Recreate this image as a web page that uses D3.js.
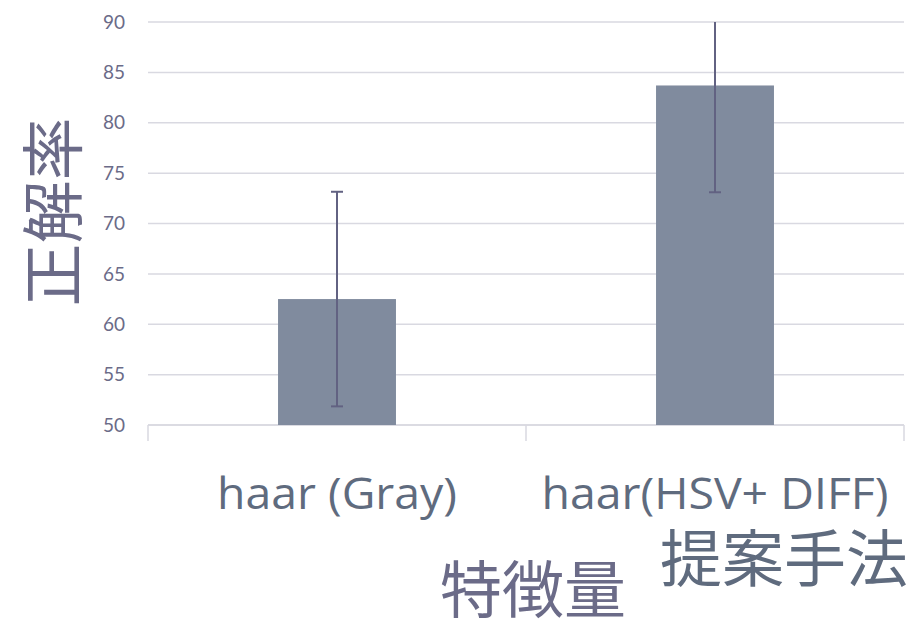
<!DOCTYPE html>
<html>
<head>
<meta charset="utf-8">
<script src="https://cdn.jsdelivr.net/npm/d3@7"></script>
<style>
  body { margin: 0; background: #fff; }
  svg { display: block; }
</style>
</head>
<body>
<svg id="chart"></svg>
<script>
// chart data
const categories = ['haar (Gray)', 'haar(HSV+ DIFF)'];
const values = [62.5, 83.7];
const errors = [10.65, 10.6];
const yTicks = [50, 55, 60, 65, 70, 75, 80, 85, 90];
const extraLabels = ['特徴量', '提案手法'];
const yTitle = '正解率';

const width = 916, height = 622;
const margin = { top: 22, right: 12, bottom: 197, left: 148 };
const innerW = width - margin.left - margin.right;
const innerH = height - margin.top - margin.bottom;

const svg = d3.select('#chart')
    .attr('width', width)
    .attr('height', height);

const g = svg.append('g')
    .attr('transform', `translate(${margin.left},${margin.top})`);

const x = d3.scaleBand()
    .domain(categories)
    .range([0, innerW])
    .padding(0);

const y = d3.scaleLinear()
    .domain([50, 90])
    .range([innerH, 0]);

const barW = x.bandwidth() * 0.312;

// gridlines
g.append('g')
    .selectAll('line')
    .data(yTicks)
    .enter()
    .append('line')
    .attr('x1', 0)
    .attr('x2', innerW)
    .attr('y1', d => y(d))
    .attr('y2', d => y(d))
    .attr('stroke', '#d9d9e1')
    .attr('stroke-width', 1.5);

// y tick labels
g.append('g')
    .selectAll('text')
    .data(yTicks)
    .enter()
    .append('text')
    .attr('x', -23)
    .attr('y', d => y(d))
    .attr('dy', '0.35em')
    .attr('text-anchor', 'end')
    .attr('fill', '#6b6b88')
    .style('font-family', 'Lato, "Open Sans", sans-serif')
    .style('font-size', '19px')
    .text(d => d);

// x axis line with ticks at band edges
const xAxis = g.append('g')
    .attr('transform', `translate(0,${innerH})`);
xAxis.append('line')
    .attr('x1', 0).attr('x2', innerW)
    .attr('stroke', '#d9d9e1').attr('stroke-width', 1.5);
xAxis.selectAll('.tick')
    .data([0, innerW / 2, innerW])
    .enter()
    .append('line')
    .attr('x1', d => d).attr('x2', d => d)
    .attr('y1', 0).attr('y2', 16)
    .attr('stroke', '#d9d9e1').attr('stroke-width', 1.5);

// bars
g.selectAll('.bar')
    .data(categories)
    .enter()
    .append('rect')
    .attr('class', 'bar')
    .attr('x', (d) => x(d) + x.bandwidth() / 2 - barW / 2)
    .attr('y', (d, i) => y(values[i]))
    .attr('width', barW)
    .attr('height', (d, i) => innerH - y(values[i]))
    .attr('fill', '#808b9e');

// error bars (clipped to the plot area)
svg.append('clipPath').attr('id', 'plotClip')
    .append('rect')
    .attr('x', 0).attr('y', 0)
    .attr('width', innerW).attr('height', innerH);

const err = g.append('g').attr('clip-path', 'url(#plotClip)');
categories.forEach((c, i) => {
    const cx = x(c) + x.bandwidth() / 2;
    const lo = values[i] - errors[i], hi = values[i] + errors[i];
    err.append('line')
        .attr('x1', cx).attr('x2', cx)
        .attr('y1', y(lo)).attr('y2', y(hi))
        .attr('stroke', '#626282').attr('stroke-width', 2);
    [lo, hi].forEach(v => {
        err.append('line')
            .attr('x1', cx - 6).attr('x2', cx + 6)
            .attr('y1', y(v)).attr('y2', y(v))
            .attr('stroke', '#626282').attr('stroke-width', 2);
    });
});

// category labels
const labelW = [240, 347];
g.append('g')
    .selectAll('text')
    .data(categories)
    .enter()
    .append('text')
    .attr('x', d => x(d) + x.bandwidth() / 2)
    .attr('y', innerH + 84)
    .attr('text-anchor', 'middle')
    .attr('fill', '#5f6b7e')
    .attr('textLength', (d, i) => labelW[i])
    .attr('lengthAdjust', 'spacingAndGlyphs')
    .style('font-family', '"Open Sans", sans-serif')
    .style('font-size', '44px')
    .text(d => d);

// y axis title
svg.append('text')
    .attr('transform', 'translate(76,212) rotate(-90)')
    .attr('text-anchor', 'middle')
    .attr('fill', '#6b6b88')
    .style('font-family', '"Noto Sans CJK JP", sans-serif')
    .style('font-size', '63px')
    .text(yTitle);

// axis title and annotation
svg.append('text')
    .attr('x', 533)
    .attr('y', 613)
    .attr('text-anchor', 'middle')
    .attr('fill', '#6b6b88')
    .style('font-family', '"Noto Sans CJK JP", sans-serif')
    .style('font-size', '62px')
    .text(extraLabels[0]);

svg.append('text')
    .attr('x', 784)
    .attr('y', 582)
    .attr('text-anchor', 'middle')
    .attr('fill', '#5f6b7e')
    .style('font-family', '"Noto Sans CJK JP", sans-serif')
    .style('font-size', '62px')
    .text(extraLabels[1]);
</script>
</body>
</html>
